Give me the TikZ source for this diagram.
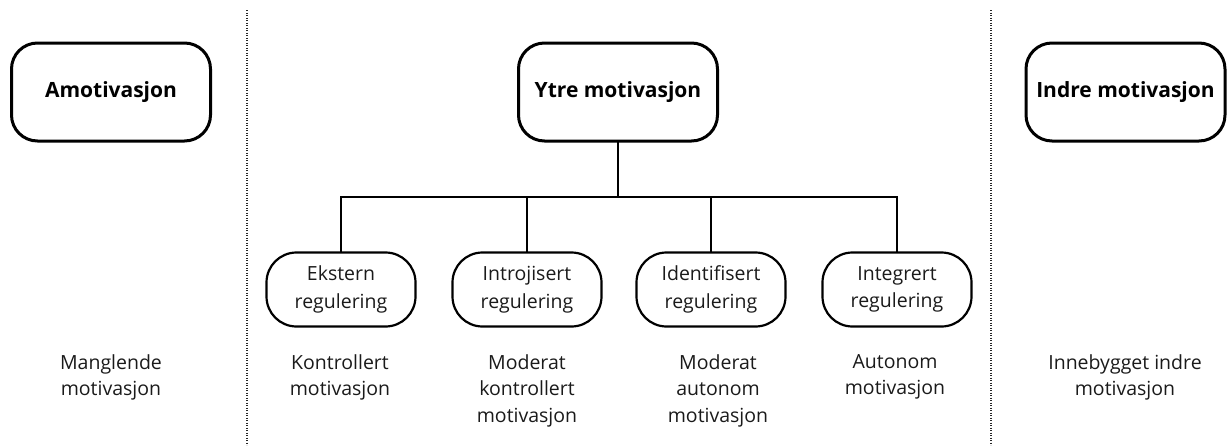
\documentclass[tikz,border=0pt]{standalone}
\usepackage{fontspec}
\setmainfont{Open Sans}
\definecolor{txt}{HTML}{1A1A1A}
\tikzset{
  bigbox/.style={draw=black, line width=3pt, rounded corners=26pt, minimum width=199pt, minimum height=98pt, inner sep=0pt, font=\fontsize{21}{24}\selectfont\bfseries, text=black},
  smallbox/.style={draw=black, line width=2.2pt, rounded corners=30pt, minimum width=149pt, minimum height=74pt, inner sep=0pt, align=center, font=\fontsize{19.5}{27.5}\selectfont, text=txt},
  lbl/.style={anchor=north, inner sep=0pt, align=center, font=\fontsize{19.5}{26.5}\selectfont, text=txt},
  conn/.style={line width=2.9pt, line join=miter, line cap=rect},
  sep/.style={line width=1.8pt, dash pattern=on 1.4pt off 1.1pt, draw=black!85}
}
\begin{document}
\begin{tikzpicture}[x=1pt,y=-1pt]
\useasboundingbox (0,0) rectangle (1227,445);
% separators
\coordinate (s1t) at (247,10); \coordinate (s1b) at (247,445);
\coordinate (s2t) at (991,10); \coordinate (s2b) at (991,445);
\draw[sep] (s1t) -- (s1b);
\draw[sep] (s2t) -- (s2b);
% top boxes
\node[bigbox] (amo) at (111,92) {Amotivasjon};
\node[bigbox] (ytre) at (618,92) {Ytre motivasjon};
\node[bigbox] (indre) at (1125.5,92) {Indre motivasjon};
% small boxes
\node[smallbox] (ext) at (341,289.5) {Ekstern\\regulering};
\node[smallbox] (intr) at (527,289.5) {Introjisert\\regulering};
\node[smallbox] (ident) at (711,289.5) {Identifisert\\regulering};
\node[smallbox] (intg) at (897,289.5) {Integrert\\regulering};
% connectors
\coordinate (hl) at (341,197);
\coordinate (hr) at (897,197);
\draw[conn] (ytre.south) -- (ytre.south |- hl);
\draw[conn] (ext.north) -- (hl) -- (hr) -- (intg.north);
\draw[conn] (intr.north) -- (intr.north |- hl);
\draw[conn] (ident.north) -- (ident.north |- hl);
% bottom labels
\node[lbl] (l1) at (111,354) {Manglende\\motivasjon};
\node[lbl] (l2) at (340,354) {Kontrollert\\motivasjon};
\node[lbl] (l3) at (527,354) {Moderat\\kontrollert\\motivasjon};
\node[lbl] (l4) at (718,354) {Moderat\\autonom\\motivasjon};
\node[lbl] (l5) at (895,354) {Autonom\\motivasjon};
\node[lbl] (l6) at (1125,354) {Innebygget indre\\motivasjon};
\end{tikzpicture}
\end{document}
